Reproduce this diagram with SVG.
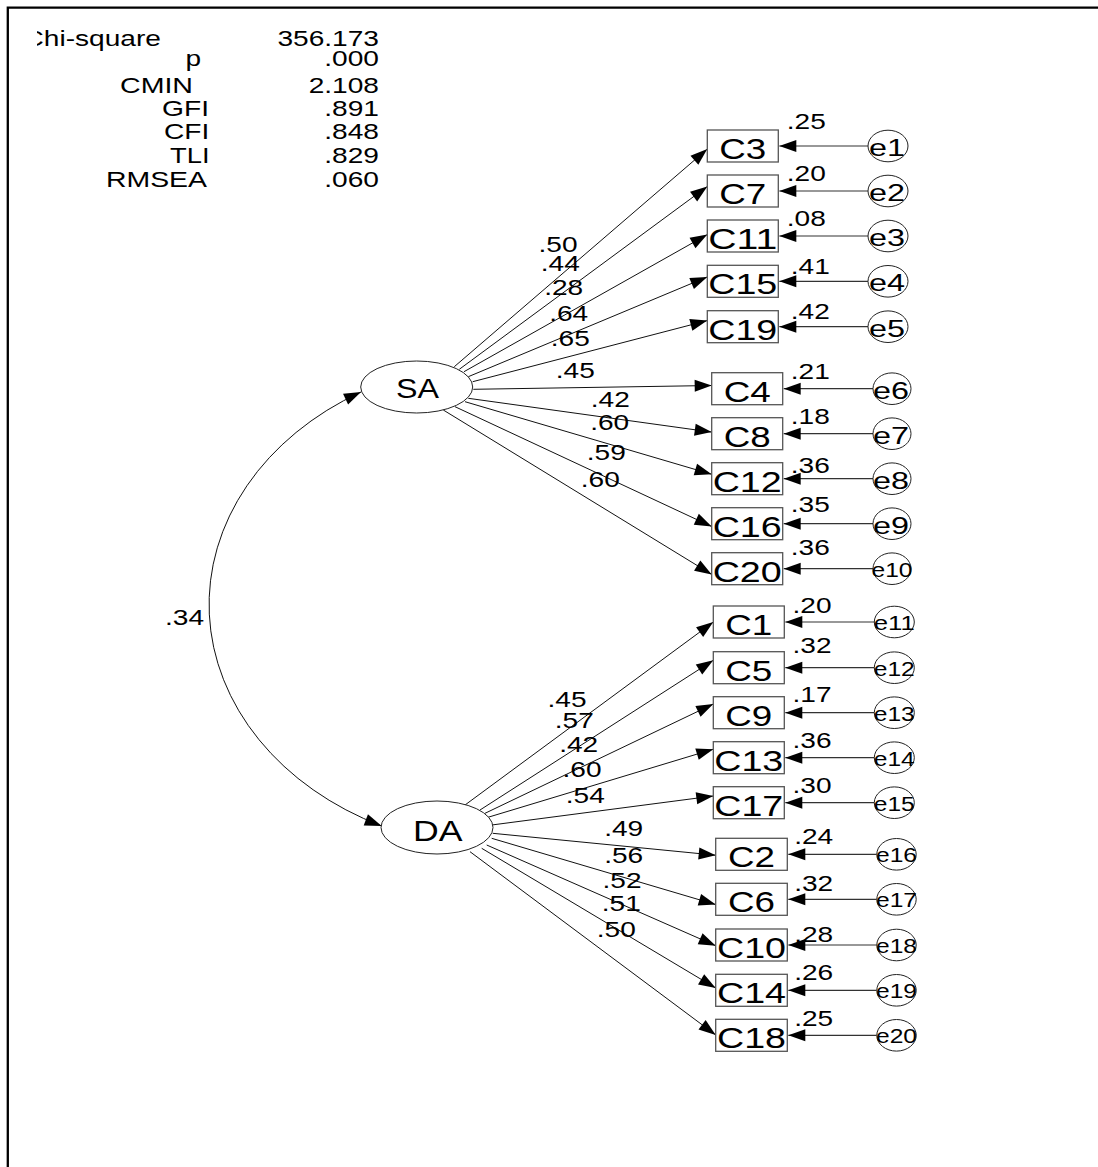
<svg xmlns="http://www.w3.org/2000/svg" width="1098" height="1167" viewBox="0 0 1098 1167">
<style>
text { font-family: "Liberation Sans", Arial, sans-serif; fill: #000; }
.st { font-size: 22.5px; }
.lb { font-size: 22.5px; }
.bx { font-size: 30px; }
.e1d { font-size: 23px; }
.e2d { font-size: 20px; }
.lat { font-size: 27px; }
rect.obs { fill: #fff; stroke: #555; stroke-width: 1.3; }
ellipse.err { fill: #fff; stroke: #222; stroke-width: 1; }
ellipse.lv { fill: #fff; stroke: #222; stroke-width: 1; }
.path { stroke: #111; stroke-width: 1; fill: none; marker-end: url(#ah); }
.epath { stroke: #333; stroke-width: 1.2; fill: none; marker-end: url(#ah); }
.cov { stroke: #111; stroke-width: 1; fill: none; marker-start: url(#ah2); marker-end: url(#ah); }
</style>
<defs>
<marker id="ah" markerUnits="userSpaceOnUse" markerWidth="18" markerHeight="12" refX="17" refY="6" orient="auto" overflow="visible">
<path d="M0,0 L17,6 L0,12 Z" fill="#000"/>
</marker>
<marker id="ah2" markerUnits="userSpaceOnUse" markerWidth="18" markerHeight="12" refX="17" refY="6" orient="auto-start-reverse" overflow="visible">
<path d="M0,0 L17,6 L0,12 Z" fill="#000"/>
</marker>
<clipPath id="clipchi"><rect x="37" y="0" width="400" height="200"/></clipPath>
</defs>
<rect width="1098" height="1167" fill="#fff"/>
<path d="M7.8,1167 V7.7 H1098" fill="none" stroke="#000" stroke-width="2.3"/>

<g id="fit-stats">
<text class="st" x="23.5" y="45.7" textLength="137.4" lengthAdjust="spacingAndGlyphs" clip-path="url(#clipchi)">Chi-square</text>
<text class="st" x="185.4" y="66" textLength="15.6" lengthAdjust="spacingAndGlyphs">p</text>
<text class="st" x="120" y="93" textLength="73" lengthAdjust="spacingAndGlyphs">CMIN</text>
<text class="st" x="162" y="115.5" textLength="47" lengthAdjust="spacingAndGlyphs">GFI</text>
<text class="st" x="164" y="139" textLength="45.3" lengthAdjust="spacingAndGlyphs">CFI</text>
<text class="st" x="170" y="162.5" textLength="39.5" lengthAdjust="spacingAndGlyphs">TLI</text>
<text class="st" x="106" y="186.5" textLength="101" lengthAdjust="spacingAndGlyphs">RMSEA</text>
<text class="st" x="277.4" y="45.7" textLength="101.6" lengthAdjust="spacingAndGlyphs">356.173</text>
<text class="st" x="324.3" y="66" textLength="54.7" lengthAdjust="spacingAndGlyphs">.000</text>
<text class="st" x="308.7" y="93" textLength="70.3" lengthAdjust="spacingAndGlyphs">2.108</text>
<text class="st" x="324.3" y="115.5" textLength="54.7" lengthAdjust="spacingAndGlyphs">.891</text>
<text class="st" x="324.3" y="139" textLength="54.7" lengthAdjust="spacingAndGlyphs">.848</text>
<text class="st" x="324.3" y="162.5" textLength="54.7" lengthAdjust="spacingAndGlyphs">.829</text>
<text class="st" x="324.3" y="186.5" textLength="54.7" lengthAdjust="spacingAndGlyphs">.060</text>
</g>

<g id="connectors">
<path class="cov" d="M361,392 A300,244.5 0 0 0 381.7,826"/>
<line class="path" x1="454.3" y1="366.7" x2="707.3" y2="149.1"/>
<line class="path" x1="459.3" y1="369.3" x2="707.3" y2="186.5"/>
<line class="path" x1="464" y1="371.7" x2="707.3" y2="234.6"/>
<line class="path" x1="468.3" y1="376.7" x2="707.3" y2="276.9"/>
<line class="path" x1="472.7" y1="381.7" x2="707.3" y2="320.6"/>
<line class="path" x1="473.3" y1="389.3" x2="711.7" y2="385.5"/>
<line class="path" x1="468.3" y1="398.3" x2="711.7" y2="432.1"/>
<line class="path" x1="465" y1="401.7" x2="711.7" y2="474.3"/>
<line class="path" x1="455" y1="406.7" x2="711.7" y2="526.5"/>
<line class="path" x1="443.3" y1="410" x2="711.7" y2="574.4"/>
<line class="path" x1="465" y1="805" x2="713.3" y2="622.1"/>
<line class="path" x1="480" y1="810" x2="713.3" y2="660.3"/>
<line class="path" x1="485" y1="813.3" x2="713.3" y2="704"/>
<line class="path" x1="486.7" y1="817.7" x2="713.3" y2="749.2"/>
<line class="path" x1="491.7" y1="825" x2="713.3" y2="796"/>
<line class="path" x1="492.7" y1="833.3" x2="715.7" y2="855.2"/>
<line class="path" x1="491.7" y1="838.3" x2="715.7" y2="904.6"/>
<line class="path" x1="486.7" y1="845" x2="715.7" y2="945.7"/>
<line class="path" x1="481.7" y1="848.3" x2="715.7" y2="988"/>
<line class="path" x1="470" y1="851.7" x2="715.7" y2="1034.9"/>
<line class="epath" x1="868" y1="146" x2="779.3" y2="146"/>
<line class="epath" x1="868" y1="191" x2="779.3" y2="191"/>
<line class="epath" x1="868" y1="236" x2="779.3" y2="236"/>
<line class="epath" x1="868" y1="281.3" x2="779.3" y2="281.3"/>
<line class="epath" x1="868" y1="326.7" x2="779.3" y2="326.7"/>
<line class="epath" x1="873" y1="388.7" x2="783.7" y2="388.7"/>
<line class="epath" x1="873" y1="433.7" x2="783.7" y2="433.7"/>
<line class="epath" x1="873" y1="478.7" x2="783.7" y2="478.7"/>
<line class="epath" x1="873" y1="523.7" x2="783.7" y2="523.7"/>
<line class="epath" x1="873" y1="568.7" x2="783.7" y2="568.7"/>
<line class="epath" x1="874.3" y1="622" x2="785.3" y2="622"/>
<line class="epath" x1="874.3" y1="667.7" x2="785.3" y2="667.7"/>
<line class="epath" x1="874.3" y1="712.7" x2="785.3" y2="712.7"/>
<line class="epath" x1="874.3" y1="757.7" x2="785.3" y2="757.7"/>
<line class="epath" x1="874.3" y1="802.7" x2="785.3" y2="802.7"/>
<line class="epath" x1="876.8" y1="854.3" x2="788.3" y2="854.3"/>
<line class="epath" x1="876.8" y1="899.3" x2="788.3" y2="899.3"/>
<line class="epath" x1="876.8" y1="945" x2="788.3" y2="945"/>
<line class="epath" x1="876.8" y1="990.3" x2="788.3" y2="990.3"/>
<line class="epath" x1="876.8" y1="1035.3" x2="788.3" y2="1035.3"/>
</g>

<g id="path-labels">
<text class="lb" x="165" y="625" textLength="39" lengthAdjust="spacingAndGlyphs">.34</text>
<text class="lb" x="538.5" y="252.3" textLength="39" lengthAdjust="spacingAndGlyphs">.50</text>
<text class="lb" x="540.8" y="271" textLength="39" lengthAdjust="spacingAndGlyphs">.44</text>
<text class="lb" x="544.2" y="295" textLength="39" lengthAdjust="spacingAndGlyphs">.28</text>
<text class="lb" x="549.2" y="320.7" textLength="39" lengthAdjust="spacingAndGlyphs">.64</text>
<text class="lb" x="550.8" y="346" textLength="39" lengthAdjust="spacingAndGlyphs">.65</text>
<text class="lb" x="555.8" y="378.3" textLength="39" lengthAdjust="spacingAndGlyphs">.45</text>
<text class="lb" x="590.8" y="406.7" textLength="39" lengthAdjust="spacingAndGlyphs">.42</text>
<text class="lb" x="590.2" y="430" textLength="39" lengthAdjust="spacingAndGlyphs">.60</text>
<text class="lb" x="586.8" y="460" textLength="39" lengthAdjust="spacingAndGlyphs">.59</text>
<text class="lb" x="580.8" y="486.7" textLength="39" lengthAdjust="spacingAndGlyphs">.60</text>
<text class="lb" x="547.5" y="706.7" textLength="39" lengthAdjust="spacingAndGlyphs">.45</text>
<text class="lb" x="554.8" y="728.3" textLength="39" lengthAdjust="spacingAndGlyphs">.57</text>
<text class="lb" x="559.2" y="751.7" textLength="39" lengthAdjust="spacingAndGlyphs">.42</text>
<text class="lb" x="562.5" y="776.7" textLength="39" lengthAdjust="spacingAndGlyphs">.60</text>
<text class="lb" x="565.8" y="803.3" textLength="39" lengthAdjust="spacingAndGlyphs">.54</text>
<text class="lb" x="604.2" y="835.7" textLength="39" lengthAdjust="spacingAndGlyphs">.49</text>
<text class="lb" x="604.2" y="863.3" textLength="39" lengthAdjust="spacingAndGlyphs">.56</text>
<text class="lb" x="602.5" y="888.3" textLength="39" lengthAdjust="spacingAndGlyphs">.52</text>
<text class="lb" x="601.8" y="910.7" textLength="39" lengthAdjust="spacingAndGlyphs">.51</text>
<text class="lb" x="596.8" y="936.7" textLength="39" lengthAdjust="spacingAndGlyphs">.50</text>
</g>

<g id="node-SA"><ellipse class="lv" cx="416.7" cy="387" rx="56" ry="26"/><text class="lat" x="396" y="398" textLength="43" lengthAdjust="spacingAndGlyphs">SA</text></g>
<g id="node-DA"><ellipse class="lv" cx="437" cy="827.5" rx="56" ry="26.5"/><text class="lat" x="413" y="841" textLength="49.5" lengthAdjust="spacingAndGlyphs" style="font-size:29px">DA</text></g>

<g id="node-C3"><rect class="obs" x="707.3" y="130" width="71" height="32"/><text class="bx" x="719.3" y="159" textLength="47" lengthAdjust="spacingAndGlyphs">C3</text><text class="lb" x="786.8" y="129.3" textLength="39" lengthAdjust="spacingAndGlyphs">.25</text></g>
<g id="node-C7"><rect class="obs" x="707.3" y="175" width="71" height="32"/><text class="bx" x="719.3" y="204" textLength="47" lengthAdjust="spacingAndGlyphs">C7</text><text class="lb" x="786.8" y="180.7" textLength="39" lengthAdjust="spacingAndGlyphs">.20</text></g>
<g id="node-C11"><rect class="obs" x="707.3" y="220" width="71" height="32"/><text class="bx" x="708.3" y="249" textLength="69" lengthAdjust="spacingAndGlyphs">C11</text><text class="lb" x="786.8" y="226" textLength="39" lengthAdjust="spacingAndGlyphs">.08</text></g>
<g id="node-C15"><rect class="obs" x="707.3" y="265.3" width="71" height="32"/><text class="bx" x="708.3" y="294.3" textLength="69" lengthAdjust="spacingAndGlyphs">C15</text><text class="lb" x="790.8" y="274.3" textLength="39" lengthAdjust="spacingAndGlyphs">.41</text></g>
<g id="node-C19"><rect class="obs" x="707.3" y="310.7" width="71" height="32"/><text class="bx" x="708.3" y="339.7" textLength="69" lengthAdjust="spacingAndGlyphs">C19</text><text class="lb" x="790.8" y="319.3" textLength="39" lengthAdjust="spacingAndGlyphs">.42</text></g>

<g id="node-C4"><rect class="obs" x="711.7" y="372.7" width="71" height="32"/><text class="bx" x="723.7" y="401.7" textLength="47" lengthAdjust="spacingAndGlyphs">C4</text><text class="lb" x="790.8" y="379.3" textLength="39" lengthAdjust="spacingAndGlyphs">.21</text></g>
<g id="node-C8"><rect class="obs" x="711.7" y="417.7" width="71" height="32"/><text class="bx" x="723.7" y="446.7" textLength="47" lengthAdjust="spacingAndGlyphs">C8</text><text class="lb" x="790.8" y="424" textLength="39" lengthAdjust="spacingAndGlyphs">.18</text></g>
<g id="node-C12"><rect class="obs" x="711.7" y="462.7" width="71" height="32"/><text class="bx" x="712.7" y="491.7" textLength="69" lengthAdjust="spacingAndGlyphs">C12</text><text class="lb" x="790.8" y="472.7" textLength="39" lengthAdjust="spacingAndGlyphs">.36</text></g>
<g id="node-C16"><rect class="obs" x="711.7" y="507.7" width="71" height="32"/><text class="bx" x="712.7" y="536.7" textLength="69" lengthAdjust="spacingAndGlyphs">C16</text><text class="lb" x="790.8" y="511.7" textLength="39" lengthAdjust="spacingAndGlyphs">.35</text></g>
<g id="node-C20"><rect class="obs" x="711.7" y="552.7" width="71" height="32"/><text class="bx" x="712.7" y="581.7" textLength="69" lengthAdjust="spacingAndGlyphs">C20</text><text class="lb" x="790.8" y="555" textLength="39" lengthAdjust="spacingAndGlyphs">.36</text></g>

<g id="node-C1"><rect class="obs" x="713.3" y="606" width="71" height="32"/><text class="bx" x="725.3" y="635" textLength="47" lengthAdjust="spacingAndGlyphs">C1</text><text class="lb" x="792.5" y="613.3" textLength="39" lengthAdjust="spacingAndGlyphs">.20</text></g>
<g id="node-C5"><rect class="obs" x="713.3" y="651.7" width="71" height="32"/><text class="bx" x="725.3" y="680.7" textLength="47" lengthAdjust="spacingAndGlyphs">C5</text><text class="lb" x="792.5" y="653.3" textLength="39" lengthAdjust="spacingAndGlyphs">.32</text></g>
<g id="node-C9"><rect class="obs" x="713.3" y="696.7" width="71" height="32"/><text class="bx" x="725.3" y="725.7" textLength="47" lengthAdjust="spacingAndGlyphs">C9</text><text class="lb" x="792.5" y="701.7" textLength="39" lengthAdjust="spacingAndGlyphs">.17</text></g>
<g id="node-C13"><rect class="obs" x="713.3" y="741.7" width="71" height="32"/><text class="bx" x="714.3" y="770.7" textLength="69" lengthAdjust="spacingAndGlyphs">C13</text><text class="lb" x="792.5" y="748.3" textLength="39" lengthAdjust="spacingAndGlyphs">.36</text></g>
<g id="node-C17"><rect class="obs" x="713.3" y="786.7" width="71" height="32"/><text class="bx" x="714.3" y="815.7" textLength="69" lengthAdjust="spacingAndGlyphs">C17</text><text class="lb" x="792.5" y="793.3" textLength="39" lengthAdjust="spacingAndGlyphs">.30</text></g>

<g id="node-C2"><rect class="obs" x="715.7" y="838.3" width="71.6" height="32"/><text class="bx" x="728" y="867.3" textLength="47" lengthAdjust="spacingAndGlyphs">C2</text><text class="lb" x="794.2" y="844" textLength="39" lengthAdjust="spacingAndGlyphs">.24</text></g>
<g id="node-C6"><rect class="obs" x="715.7" y="883.3" width="71.6" height="32"/><text class="bx" x="728" y="912.3" textLength="47" lengthAdjust="spacingAndGlyphs">C6</text><text class="lb" x="794.2" y="890.7" textLength="39" lengthAdjust="spacingAndGlyphs">.32</text></g>
<g id="node-C10"><rect class="obs" x="715.7" y="929" width="71.6" height="32"/><text class="bx" x="717" y="958" textLength="69" lengthAdjust="spacingAndGlyphs">C10</text><text class="lb" x="794.2" y="941.7" textLength="39" lengthAdjust="spacingAndGlyphs">.28</text></g>
<g id="node-C14"><rect class="obs" x="715.7" y="974.3" width="71.6" height="32"/><text class="bx" x="717" y="1003.3" textLength="69" lengthAdjust="spacingAndGlyphs">C14</text><text class="lb" x="794.2" y="980" textLength="39" lengthAdjust="spacingAndGlyphs">.26</text></g>
<g id="node-C18"><rect class="obs" x="715.7" y="1019.3" width="71.6" height="32"/><text class="bx" x="717" y="1048.3" textLength="69" lengthAdjust="spacingAndGlyphs">C18</text><text class="lb" x="794.2" y="1025.7" textLength="39" lengthAdjust="spacingAndGlyphs">.25</text></g>

<g id="node-e1"><ellipse class="err" cx="888" cy="146" rx="20" ry="15.8"/><text class="e1d" x="869" y="156" textLength="36" lengthAdjust="spacingAndGlyphs">e1</text></g>
<g id="node-e2"><ellipse class="err" cx="888" cy="191" rx="20" ry="15.8"/><text class="e1d" x="869" y="201" textLength="36" lengthAdjust="spacingAndGlyphs">e2</text></g>
<g id="node-e3"><ellipse class="err" cx="888" cy="236" rx="20" ry="15.8"/><text class="e1d" x="869" y="246" textLength="36" lengthAdjust="spacingAndGlyphs">e3</text></g>
<g id="node-e4"><ellipse class="err" cx="888" cy="281.3" rx="20" ry="15.8"/><text class="e1d" x="869" y="291.3" textLength="36" lengthAdjust="spacingAndGlyphs">e4</text></g>
<g id="node-e5"><ellipse class="err" cx="888" cy="326.7" rx="20" ry="15.8"/><text class="e1d" x="869" y="336.7" textLength="36" lengthAdjust="spacingAndGlyphs">e5</text></g>
<g id="node-e6"><ellipse class="err" cx="892" cy="388.7" rx="19" ry="15.8"/><text class="e1d" x="873" y="398.7" textLength="36" lengthAdjust="spacingAndGlyphs">e6</text></g>
<g id="node-e7"><ellipse class="err" cx="892" cy="433.7" rx="19" ry="15.8"/><text class="e1d" x="873" y="443.7" textLength="36" lengthAdjust="spacingAndGlyphs">e7</text></g>
<g id="node-e8"><ellipse class="err" cx="892" cy="478.7" rx="19" ry="15.8"/><text class="e1d" x="873" y="488.7" textLength="36" lengthAdjust="spacingAndGlyphs">e8</text></g>
<g id="node-e9"><ellipse class="err" cx="892" cy="523.7" rx="19" ry="15.8"/><text class="e1d" x="873" y="533.7" textLength="36" lengthAdjust="spacingAndGlyphs">e9</text></g>
<g id="node-e10"><ellipse class="err" cx="892" cy="568.7" rx="19" ry="15.8"/><text class="e2d" x="871.5" y="576.7" textLength="41" lengthAdjust="spacingAndGlyphs">e10</text></g>
<g id="node-e11"><ellipse class="err" cx="894.3" cy="622" rx="20" ry="15.8"/><text class="e2d" x="873.8" y="630" textLength="41" lengthAdjust="spacingAndGlyphs">e11</text></g>
<g id="node-e12"><ellipse class="err" cx="894.3" cy="667.7" rx="20" ry="15.8"/><text class="e2d" x="873.8" y="675.7" textLength="41" lengthAdjust="spacingAndGlyphs">e12</text></g>
<g id="node-e13"><ellipse class="err" cx="894.3" cy="712.7" rx="20" ry="15.8"/><text class="e2d" x="873.8" y="720.7" textLength="41" lengthAdjust="spacingAndGlyphs">e13</text></g>
<g id="node-e14"><ellipse class="err" cx="894.3" cy="757.7" rx="20" ry="15.8"/><text class="e2d" x="873.8" y="765.7" textLength="41" lengthAdjust="spacingAndGlyphs">e14</text></g>
<g id="node-e15"><ellipse class="err" cx="894.3" cy="802.7" rx="20" ry="15.8"/><text class="e2d" x="873.8" y="810.7" textLength="41" lengthAdjust="spacingAndGlyphs">e15</text></g>
<g id="node-e16"><ellipse class="err" cx="896.5" cy="854.3" rx="19.7" ry="15.8"/><text class="e2d" x="876" y="862.3" textLength="41" lengthAdjust="spacingAndGlyphs">e16</text></g>
<g id="node-e17"><ellipse class="err" cx="896.5" cy="899.3" rx="19.7" ry="15.8"/><text class="e2d" x="876" y="907.3" textLength="41" lengthAdjust="spacingAndGlyphs">e17</text></g>
<g id="node-e18"><ellipse class="err" cx="896.5" cy="945" rx="19.7" ry="15.8"/><text class="e2d" x="876" y="953" textLength="41" lengthAdjust="spacingAndGlyphs">e18</text></g>
<g id="node-e19"><ellipse class="err" cx="896.5" cy="990.3" rx="19.7" ry="15.8"/><text class="e2d" x="876" y="998.3" textLength="41" lengthAdjust="spacingAndGlyphs">e19</text></g>
<g id="node-e20"><ellipse class="err" cx="896.5" cy="1035.3" rx="19.7" ry="15.8"/><text class="e2d" x="876" y="1043.3" textLength="41" lengthAdjust="spacingAndGlyphs">e20</text></g>
</svg>
